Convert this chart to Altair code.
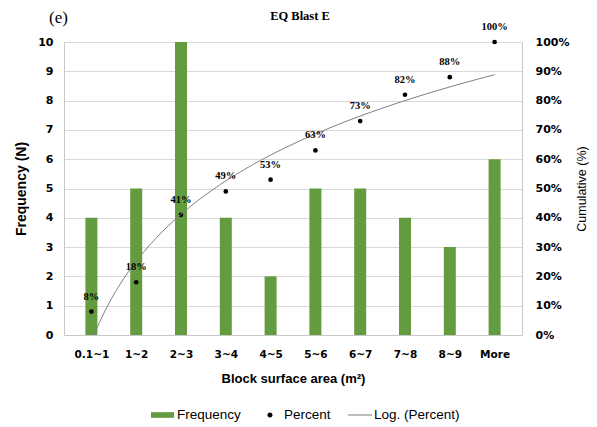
import altair as alt
import pandas as pd

categories = ["0.1~1", "1~2", "2~3", "3~4", "4~5", "5~6", "6~7", "7~8", "8~9", "More"]
frequency = [4, 5, 10, 4, 2, 5, 5, 4, 3, 6]
percent = [0.08, 0.18, 0.41, 0.49, 0.53, 0.63, 0.73, 0.82, 0.88, 1.00]
series = ["Frequency", "Percent", "Log. (Percent)"]

df = pd.DataFrame({
    "idx": list(range(1, len(categories) + 1)),
    "cat": categories,
    "freq": frequency,
    "pct": percent,
})
legend_df = pd.DataFrame({"series": pd.Series([], dtype=str)})

SANS = "Liberation Sans"
TICK = "DejaVu Sans"
GREEN = "#629c3e"
label_expr = "[" + ",".join("'%s'" % c for c in categories) + "][datum.value - 1]"

x_enc = alt.X(
    "idx:Q",
    scale=alt.Scale(domain=[0.5, 10.5], nice=False, zero=False),
    axis=alt.Axis(
        values=list(range(1, 11)), labelExpr=label_expr, grid=False, ticks=False,
        title="Block surface area (m²)", titleFont=SANS, titleFontSize=13,
        titleFontWeight="bold", titleColor="#000",
        labelFont=TICK, labelFontSize=10.5,
        labelFontWeight="bold", labelColor="#000", labelPadding=14, titlePadding=13,
        domainColor="#c8c8c8",
    ),
)

bars = alt.Chart(df).mark_bar(size=12, color=GREEN).encode(
    x=x_enc,
    y=alt.Y(
        "freq:Q",
        scale=alt.Scale(domain=[0, 10], nice=False),
        axis=alt.Axis(
            values=list(range(0, 11)), grid=True, gridColor="#d9d9d9", ticks=False,
            domainColor="#c8c8c8", title="Frequency (N)", titleFont=SANS,
            titleFontSize=14, titleFontWeight="bold", titleColor="#000",
            labelFont=TICK, labelFontSize=11, labelFontWeight="bold", labelColor="#000",
            labelPadding=11, titlePadding=9,
        ),
    ),
)

pct_scale = alt.Scale(domain=[0, 1], nice=False)

points = alt.Chart(df).mark_point(filled=True, color="#000", size=22, opacity=1).encode(
    x="idx:Q",
    y=alt.Y(
        "pct:Q",
        scale=pct_scale,
        axis=alt.Axis(
            orient="right", values=[i / 10 for i in range(11)], format=".0%", grid=False,
            ticks=False, domainColor="#c8c8c8", title="Cumulative (%)", titleAngle=270,
            titleFont=SANS, titleFontSize=12.5, titleFontWeight="normal", titleColor="#000",
            labelFont=TICK, labelFontSize=11, labelFontWeight="bold", labelColor="#000",
            labelPadding=13, titlePadding=20,
        ),
    ),
)

trend = alt.Chart(df).transform_regression(
    "idx", "pct", method="log"
).mark_line(color="#808080", strokeWidth=1, clip=True).encode(
    x="idx:Q", y=alt.Y("pct:Q", scale=pct_scale, axis=None)
)

labels = alt.Chart(df).mark_text(
    dy=-15, font="Liberation Serif", fontSize=10.5, fontWeight="bold", color="#000"
).encode(
    x="idx:Q", y=alt.Y("pct:Q", scale=pct_scale, axis=None),
    text=alt.Text("pct:Q", format=".0%"),
)

shapes = [
    "M-1,-0.27H1.19V0.27H-1Z",
    "M0.38,0A0.24,0.24,0,1,1,-0.1,0A0.24,0.24,0,1,1,0.38,0Z",
    "M-1,-0.05H1.29V0.05H-1Z",
]
legend_layer = alt.Chart(legend_df).mark_point(filled=True, size=441, opacity=1).encode(
    color=alt.Color(
        "series:N",
        scale=alt.Scale(domain=series, range=[GREEN, "#000000", "#808080"]),
        legend=alt.Legend(
            orient="none", legendX=87, legendY=362.5, direction="horizontal", title=None,
            labelFont=SANS, labelFontSize=13.5, labelColor="#000", labelOffset=5,
            columnPadding=17, padding=0, symbolSize=441, symbolStrokeWidth=0,
        ),
    ),
    shape=alt.Shape("series:N", scale=alt.Scale(domain=series, range=shapes), legend=None),
)

tag = alt.Chart(pd.DataFrame({"t": ["(e)"]})).mark_text(
    font="Liberation Serif", fontSize=17, align="left", baseline="alphabetic", color="#000"
).encode(x=alt.value(-15), y=alt.value(-19), text="t:N")

title = alt.Chart(pd.DataFrame({"t": ["EQ Blast E"]})).mark_text(
    font="Liberation Serif", fontSize=12.5, fontWeight="bold", align="center",
    baseline="alphabetic", color="#000"
).encode(x=alt.value(236), y=alt.value(-22), text="t:N")

chart = alt.layer(bars, points, trend, labels, legend_layer, tag, title).resolve_scale(
    y="independent"
).properties(
    width=458, height=293,
    autosize=alt.AutoSizeParams(type="none"),
    padding={"left": 56, "top": 34, "right": 67, "bottom": 92},
).configure_view(stroke=None)

chart.save("out.html", embed_options={"renderer": "svg", "actions": False})
